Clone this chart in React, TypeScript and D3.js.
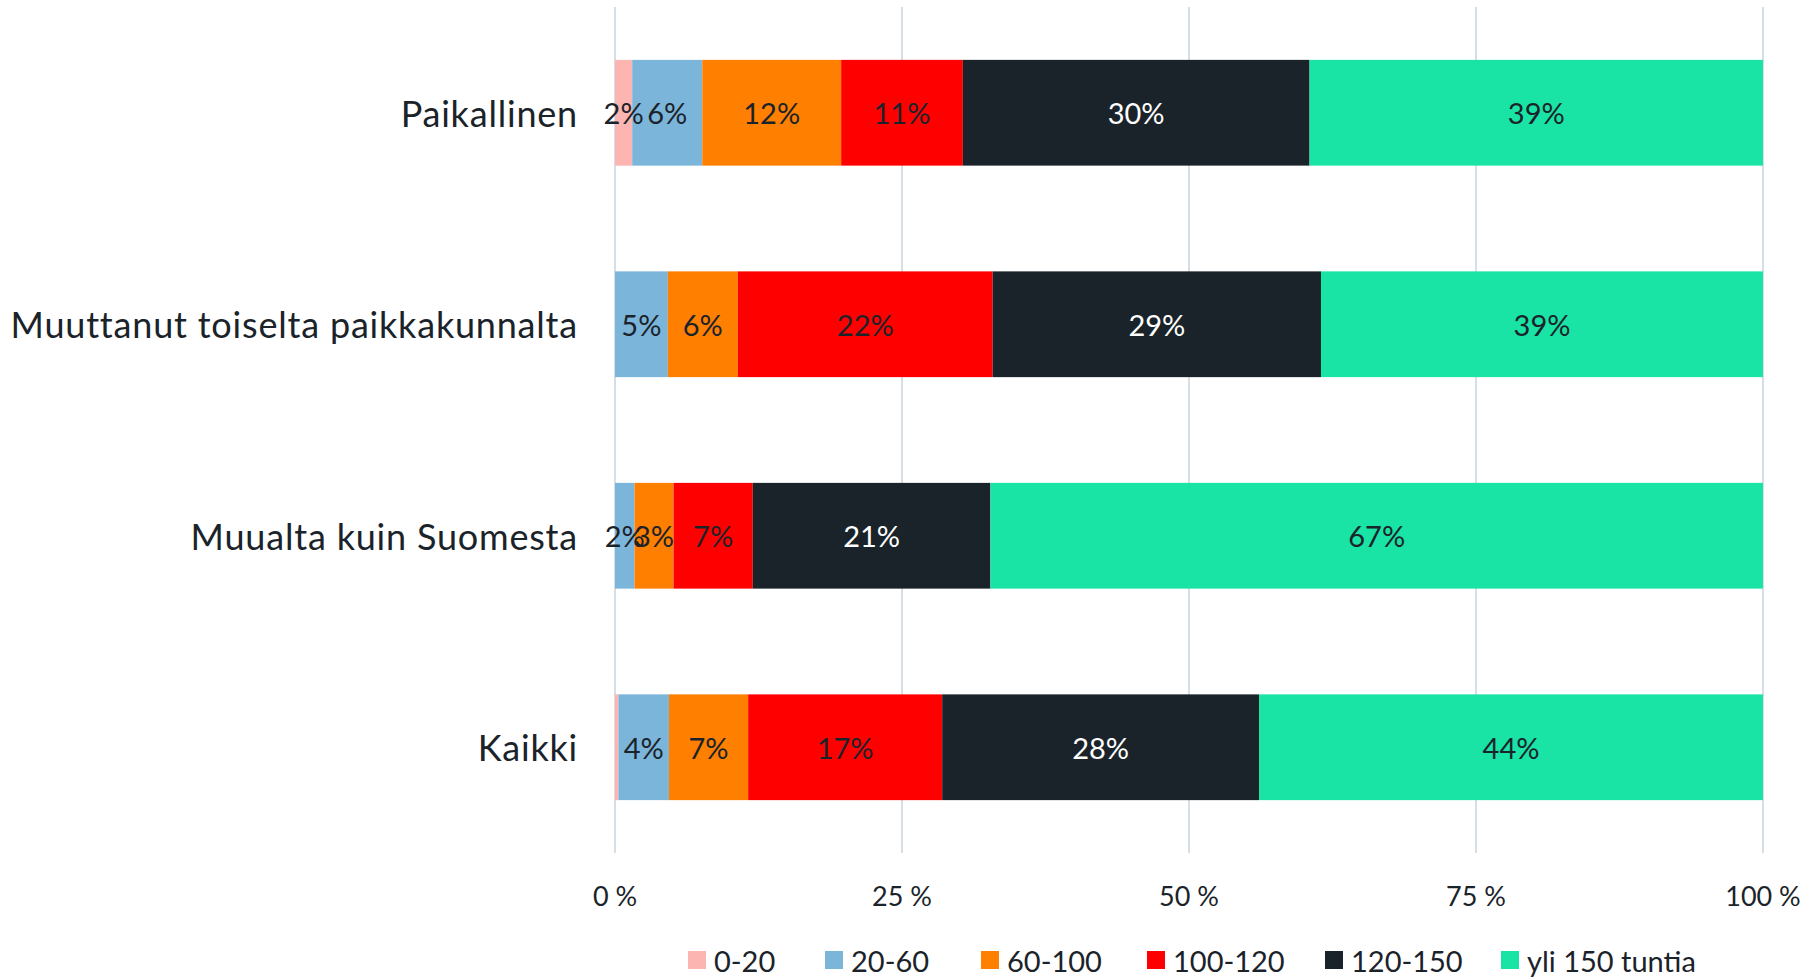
import React from "react";
import { scaleBand, scaleLinear, stack, stackOffsetNone } from "d3";

// categories, top to bottom
const categories = [
  "Paikallinen",
  "Muuttanut toiselta paikkakunnalta",
  "Muualta kuin Suomesta",
  "Kaikki",
];

// hour bands (legend order)
const keys = ["0-20", "20-60", "60-100", "100-120", "120-150", "yli 150 tuntia"];

// share of each band per category, %
const v0_20 = [1.5, 0, 0, 0.3];
const v20_60 = [6.1, 4.6, 1.7, 4.4];
const v60_100 = [12.1, 6.1, 3.4, 6.9];
const v100_120 = [10.6, 22.2, 6.9, 16.9];
const v120_150 = [30.2, 28.6, 20.7, 27.6];
const vOver150 = [39.5, 38.5, 67.3, 43.9];

// printed value labels
const labels0_20 = ["2%", "", "", ""];
const labels20_60 = ["6%", "5%", "2%", "4%"];
const labels60_100 = ["12%", "6%", "3%", "7%"];
const labels100_120 = ["11%", "22%", "7%", "17%"];
const labels120_150 = ["30%", "29%", "21%", "28%"];
const labelsOver150 = ["39%", "39%", "67%", "44%"];

const xTicks = [0, 25, 50, 75, 100];

const colors = ["#fcb5b0", "#7bb5da", "#ff7f00", "#ff0000", "#1b232a", "#19e4a5"];
const textDark = "#1b232a";

const series = [v0_20, v20_60, v60_100, v100_120, v120_150, vOver150];
const seriesLabels = [labels0_20, labels20_60, labels60_100, labels100_120, labels120_150, labelsOver150];

const rows = categories.map((c, i) => {
  const row: any = { category: c };
  keys.forEach((k, j) => (row[k] = series[j][i]));
  return row;
});

const W = 1812;
const H = 979;
const font = "Lato, 'Open Sans', sans-serif";

export default function App() {
  const x = scaleLinear().domain([0, 100]).range([615, 1763]);
  const y = scaleBand()
    .domain(categories)
    .range([7, 853])
    .paddingInner(0.5)
    .paddingOuter(0.25);

  const layers = stack<any>().keys(keys).offset(stackOffsetNone)(rows);

  // legend positions
  const legendX = [688, 825, 981, 1147, 1325, 1501];

  return (
    <div style={{ position: "absolute", left: 0, top: 0 }}>
      <svg width={W} height={H} style={{ display: "block", background: "#fff" }}>
        {/* grid */}
        {xTicks.map((t) => (
          <line
            key={t}
            x1={x(t)}
            x2={x(t)}
            y1={7}
            y2={853}
            stroke="#d6dee6"
            strokeWidth={2}
          />
        ))}

        {/* bars */}
        {layers.map((layer, j) => (
          <g key={layer.key} fill={colors[j]}>
            {layer.map((d, i) => (
              <rect
                key={i}
                x={x(d[0])}
                y={y(categories[i])}
                width={Math.max(0, x(d[1]) - x(d[0]))}
                height={y.bandwidth()}
              />
            ))}
          </g>
        ))}

        {/* value labels */}
        {layers.map((layer, j) => (
          <g key={"l" + layer.key}>
            {layer.map((d, i) =>
              seriesLabels[j][i] ? (
                <text
                  key={i}
                  x={(x(d[0]) + x(d[1])) / 2}
                  y={(y(categories[i]) as number) + y.bandwidth() / 2}
                  textAnchor="middle"
                  dominantBaseline="central"
                  fontFamily={font}
                  fontSize={29}
                  fill={j === 4 ? "#ffffff" : textDark}
                >
                  {seriesLabels[j][i]}
                </text>
              ) : null
            )}
          </g>
        ))}

        {/* category labels */}
        {categories.map((c) => (
          <text
            key={c}
            x={578}
            y={(y(c) as number) + y.bandwidth() / 2}
            textAnchor="end"
            dominantBaseline="central"
            fontFamily={font}
            fontSize={36}
            letterSpacing={0.8}
            fill={textDark}
          >
            {c}
          </text>
        ))}

        {/* x axis labels */}
        {xTicks.map((t) => (
          <text
            key={"t" + t}
            x={x(t)}
            y={895}
            textAnchor="middle"
            dominantBaseline="central"
            fontFamily={font}
            fontSize={27}
            fill={textDark}
          >
            {t} %
          </text>
        ))}

        {/* legend */}
        {keys.map((k, j) => (
          <g key={"lg" + k} transform={`translate(${legendX[j]},960)`}>
            <rect x={0} y={-9} width={18} height={18} fill={colors[j]} />
            <text
              x={26}
              y={0}
              dominantBaseline="central"
              fontFamily={font}
              fontSize={29}
              fill={textDark}
            >
              {k}
            </text>
          </g>
        ))}
      </svg>
    </div>
  );
}
